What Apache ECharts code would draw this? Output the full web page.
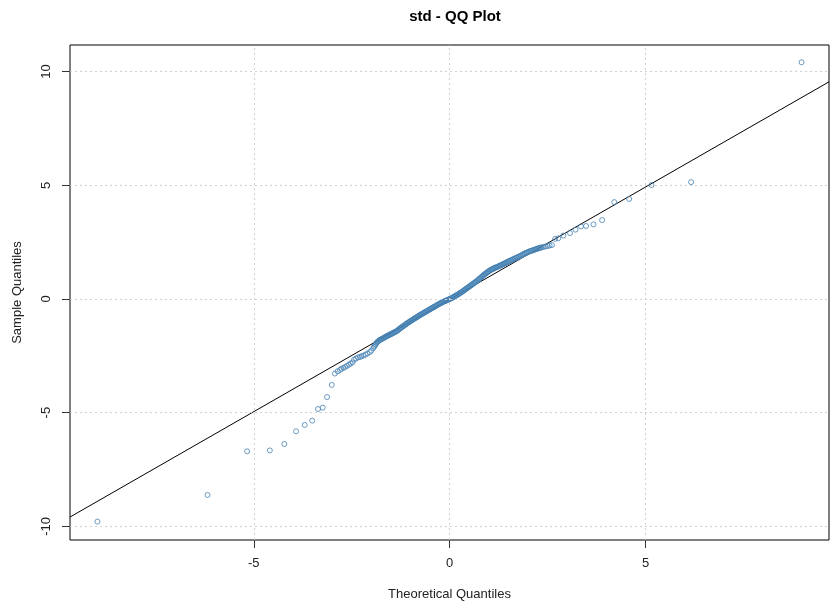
<!DOCTYPE html>
<html>
<head>
<meta charset="utf-8">
<script src="https://cdn.jsdelivr.net/npm/echarts@6/dist/echarts.min.js"></script>
<style>html,body{margin:0;padding:0;background:#fff;}#c{width:833px;height:606px;}</style>
</head>
<body>
<div id="c"></div>
<script>
// Theoretical quantiles (x) and sample quantiles (y)
const theoX = [
  -8.99, -6.18, -5.17, -4.59, -4.22, -3.92, -3.70, -3.51, -3.36, -3.24, -3.13, -3.01,
  -2.93, -2.86, -2.80, -2.76, -2.71, -2.67, -2.62, -2.57, -2.53, -2.48, -2.44, -2.39,
  -2.34, -2.29, -2.25, -2.20, -2.15, -2.10, -2.04, -2.00, -1.95, -1.91, -1.87, -1.83,
  -1.79, -1.75, -1.70, -1.66, -1.62, -1.58, -1.54, -1.50, -1.46, -1.42, -1.38, -1.34,
  -1.30, -1.26, -1.22, -1.18, -1.14, -1.10, -1.06, -1.02, -0.98, -0.94, -0.90, -0.86,
  -0.82, -0.78, -0.74, -0.70, -0.66, -0.62, -0.58, -0.54, -0.50, -0.46, -0.42, -0.38,
  -0.34, -0.30, -0.26, -0.22, -0.18, -0.14, -0.10, -0.06, -0.02, 0.02, 0.06, 0.10,
  0.14, 0.18, 0.22, 0.26, 0.30, 0.34, 0.38, 0.42, 0.46, 0.50, 0.54, 0.58,
  0.62, 0.66, 0.70, 0.74, 0.78, 0.82, 0.86, 0.90, 0.94, 0.98, 1.02, 1.06,
  1.10, 1.14, 1.18, 1.22, 1.26, 1.30, 1.34, 1.38, 1.42, 1.46, 1.50, 1.55,
  1.60, 1.65, 1.70, 1.75, 1.80, 1.85, 1.90, 1.95, 2.00, 2.05, 2.10, 2.15,
  2.20, 2.25, 2.30, 2.35, 2.40, 2.45, 2.50, 2.55, 2.61,
  2.69, 2.77, 2.90, 3.07, 3.21, 3.35, 3.48, 3.67, 3.89, 4.20, 4.58, 5.15, 6.16, 8.98
];
const sampleY = [
  -9.79, -8.62, -6.70, -6.66, -6.38, -5.82, -5.54, -5.35, -4.84, -4.78, -4.31, -3.78,
  -3.28, -3.18, -3.12, -3.07, -3.03, -2.99, -2.94, -2.89, -2.84, -2.79, -2.67, -2.62,
  -2.57, -2.55, -2.52, -2.49, -2.45, -2.40, -2.34, -2.27, -2.16, -2.05, -1.94, -1.87,
  -1.81, -1.77, -1.73, -1.69, -1.65, -1.61, -1.58, -1.55, -1.51, -1.47, -1.44, -1.40,
  -1.34, -1.29, -1.24, -1.19, -1.14, -1.09, -1.04, -1.00, -0.95, -0.91, -0.86, -0.82,
  -0.78, -0.73, -0.69, -0.65, -0.61, -0.57, -0.53, -0.49, -0.45, -0.41, -0.37, -0.33,
  -0.29, -0.25, -0.21, -0.18, -0.14, -0.11, -0.08, -0.05, -0.02, 0.02, 0.05, 0.09,
  0.13, 0.17, 0.21, 0.26, 0.30, 0.35, 0.40, 0.45, 0.50, 0.55, 0.60, 0.65,
  0.70, 0.75, 0.80, 0.86, 0.92, 0.98, 1.04, 1.10, 1.15, 1.20, 1.25, 1.29,
  1.32, 1.36, 1.39, 1.42, 1.45, 1.48, 1.51, 1.55, 1.58, 1.62, 1.65, 1.69,
  1.73, 1.77, 1.81, 1.85, 1.89, 1.94, 1.99, 2.03, 2.06, 2.10, 2.13, 2.16,
  2.19, 2.22, 2.25, 2.27, 2.29, 2.31, 2.33, 2.35, 2.37,
  2.64, 2.67, 2.79, 2.90, 3.05, 3.19, 3.21, 3.28, 3.47, 4.26, 4.40, 5.01, 5.14, 10.41
];
// Further points of the dense central band
const theoX2 = [
  -1.93, -1.89, -1.85, -1.81,
  -1.77, -1.72, -1.68, -1.64, -1.60, -1.56, -1.52, -1.48, -1.44, -1.40, -1.36, -1.32,
  -1.28, -1.24, -1.20, -1.16, -1.12, -1.08, -1.04, -1.00, -0.96, -0.92, -0.88, -0.84,
  -0.80, -0.76, -0.72, -0.68, -0.64, -0.60, -0.56, -0.52, -0.48, -0.44, -0.40, -0.36,
  -0.32, -0.28, -0.24, -0.20, -0.16, -0.12, -0.08, -0.04, 0.00, 0.04, 0.08, 0.12,
  0.16, 0.20, 0.24, 0.28, 0.32, 0.36, 0.40, 0.44, 0.48, 0.52, 0.56, 0.60,
  0.64, 0.68, 0.72, 0.76, 0.80, 0.84, 0.88, 0.92, 0.96, 1.00, 1.04, 1.08,
  1.12, 1.16, 1.20, 1.24, 1.28, 1.32, 1.36, 1.40, 1.44, 1.48, 1.52, 1.57,
  1.62, 1.67, 1.72, 1.77, 1.82, 1.87, 1.92, 1.97, 2.02, 2.07, 2.12, 2.17,
  2.22, 2.27, 2.32
];
const sampleY2 = [
  -2.10, -2.00, -1.90, -1.84,
  -1.79, -1.75, -1.71, -1.67, -1.63, -1.60, -1.56, -1.53, -1.49, -1.45, -1.42, -1.37,
  -1.31, -1.26, -1.21, -1.16, -1.11, -1.06, -1.02, -0.97, -0.93, -0.88, -0.84, -0.80,
  -0.75, -0.71, -0.67, -0.63, -0.59, -0.55, -0.51, -0.47, -0.43, -0.39, -0.35, -0.31,
  -0.27, -0.23, -0.19, -0.16, -0.12, -0.09, -0.06, -0.03, 0.00, 0.03, 0.07, 0.11,
  0.15, 0.19, 0.23, 0.28, 0.32, 0.37, 0.42, 0.47, 0.52, 0.57, 0.62, 0.67,
  0.72, 0.77, 0.83, 0.89, 0.95, 1.01, 1.07, 1.12, 1.17, 1.22, 1.27, 1.30,
  1.34, 1.37, 1.40, 1.43, 1.46, 1.49, 1.53, 1.56, 1.60, 1.63, 1.67, 1.71,
  1.75, 1.79, 1.83, 1.87, 1.91, 1.96, 2.01, 2.04, 2.08, 2.11, 2.14, 2.17,
  2.20, 2.23, 2.26
];
// Reference line endpoints (at the plot edges)
const lineX = [-9.69, 9.68];
const lineY = [-9.59, 9.55];
// Tick labels
const xTicks = [-5, 0, 5];
const yTicks = [-10, -5, 0, 5, 10];

const points = theoX.map((x, i) => [x, sampleY[i]])
  .concat(theoX2.map((x, i) => [x, sampleY2[i]]));
const linePts = lineX.map((x, i) => [x, lineY[i]]);
const gridLines = xTicks.map(v => ({xAxis: v})).concat(yTicks.map(v => ({yAxis: v})));

const chart = echarts.init(document.getElementById('c'), null, {renderer: 'canvas'});
const font = '"Liberation Sans", Arial, sans-serif';
chart.setOption({
  animation: false,
  backgroundColor: '#ffffff',
  title: {
    text: 'std - QQ Plot',
    left: 450, top: 4, textAlign: 'center',
    textStyle: {fontFamily: font, fontSize: 15, fontWeight: 'bold', color: '#000'}
  },
  grid: {
    left: 70, right: 4, top: 45, bottom: 63,
    show: true, borderColor: '#000', borderWidth: 1, backgroundColor: 'transparent'
  },
  xAxis: {
    type: 'value', min: -9.69, max: 9.68,
    name: 'Theoretical Quantiles', nameLocation: 'middle', nameGap: 48,
    nameTextStyle: {fontFamily: font, fontSize: 13, color: '#222'},
    axisLine: {show: false, onZero: false},
    axisTick: {show: true, customValues: xTicks, length: 8, lineStyle: {color: '#333'}},
    axisLabel: {customValues: xTicks, fontFamily: font, fontSize: 13, color: '#222', margin: 17},
    splitLine: {show: false}
  },
  yAxis: {
    type: 'value', min: -10.6, max: 11.17,
    name: 'Sample Quantiles', nameLocation: 'middle', nameGap: 46,
    nameTextStyle: {fontFamily: font, fontSize: 13, color: '#222'},
    axisLine: {show: false, onZero: false},
    axisTick: {show: true, customValues: yTicks, length: 8, lineStyle: {color: '#333'}},
    axisLabel: {customValues: yTicks, rotate: 90, fontFamily: font, fontSize: 13, color: '#222', margin: 17},
    splitLine: {show: false}
  },
  series: [
    {
      type: 'scatter', data: [], silent: true, z: 1,
      markLine: {
        silent: true, symbol: ['none', 'none'], animation: false,
        label: {show: false},
        lineStyle: {color: '#d0d0d0', width: 1, type: [2, 3]},
        data: gridLines
      }
    },
    {
      type: 'line', data: linePts, z: 2, symbol: 'none', silent: true,
      lineStyle: {color: '#000', width: 1}
    },
    {
      type: 'scatter', data: points, z: 3, symbol: 'circle', symbolSize: 5,
      itemStyle: {color: 'rgba(255,255,255,0)', borderColor: '#4682b4', borderWidth: 1}
    }
  ]
});
</script>
</body>
</html>
